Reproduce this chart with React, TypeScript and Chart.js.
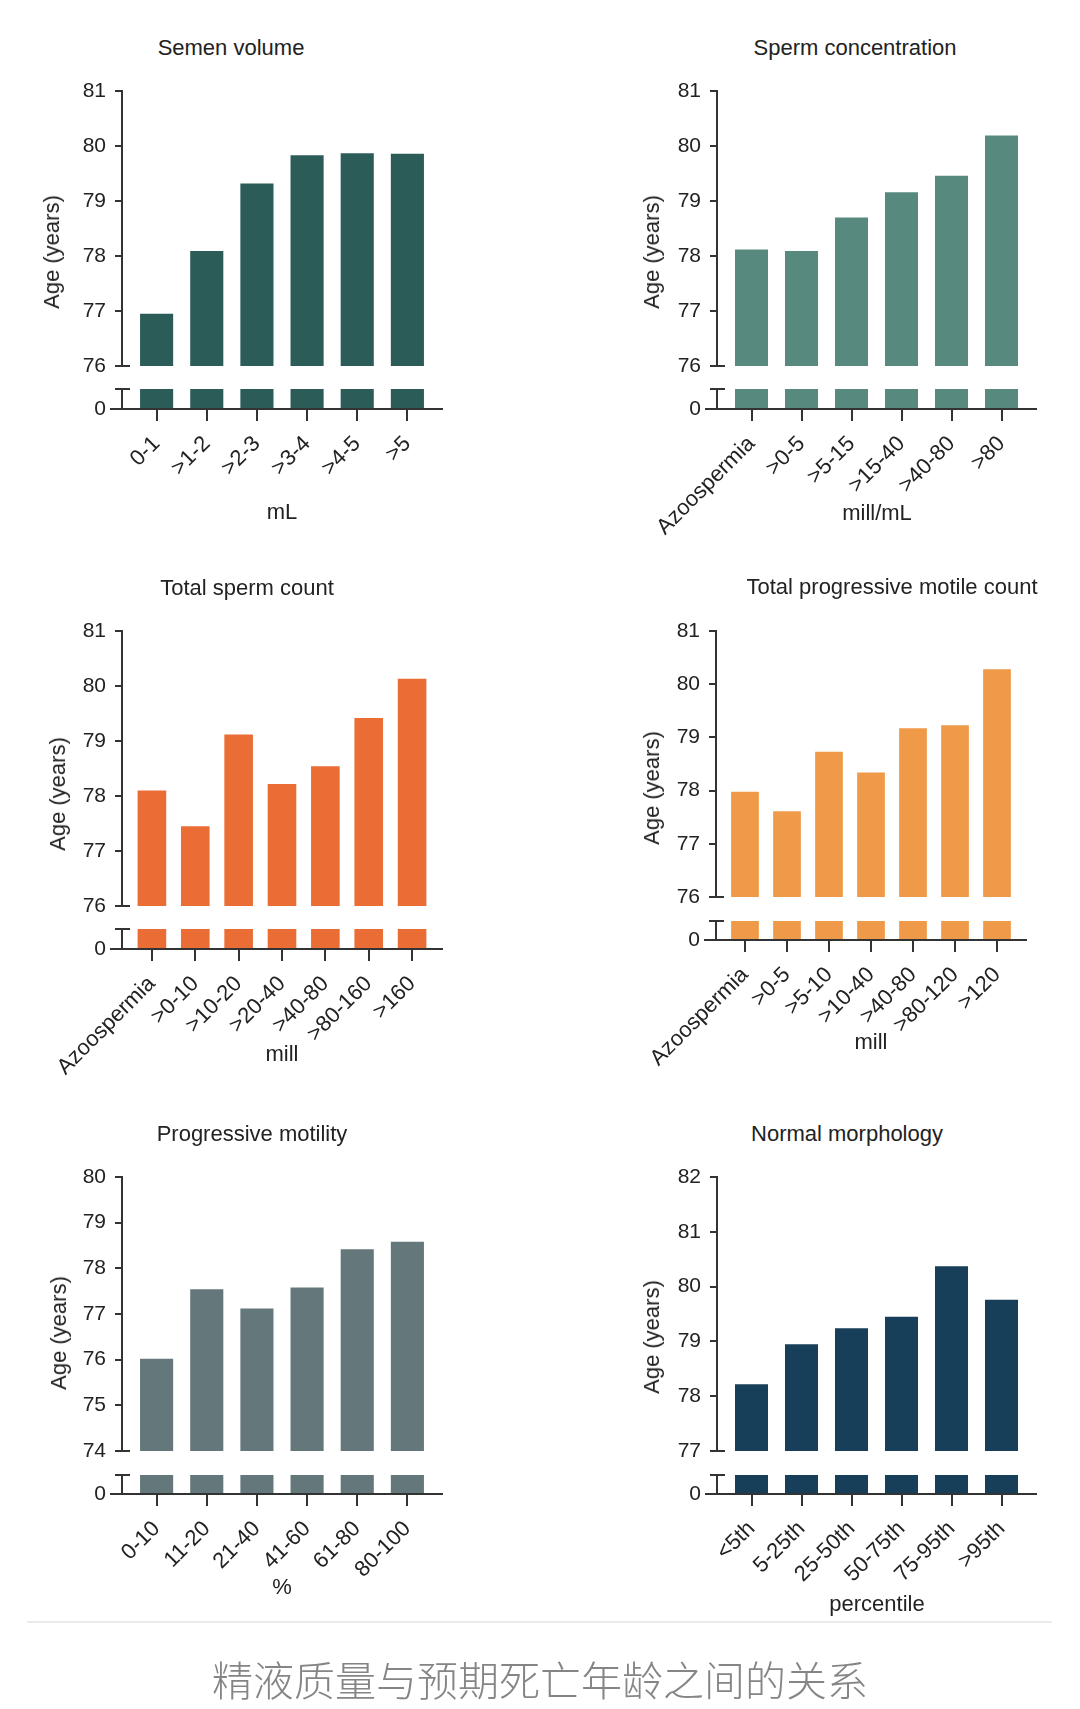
import React, { useEffect, useRef } from 'react';
import { Chart, registerables } from 'chart.js';

Chart.register(...registerables);

// ---------------- data ----------------
const semenVolumeCategories = ['0-1', '>1-2', '>2-3', '>3-4', '>4-5', '>5'];
const semenVolumeAges = [76.95, 78.09, 79.32, 79.83, 79.87, 79.86];

const concentrationCategories = ['Azoospermia', '>0-5', '>5-15', '>15-40', '>40-80', '>80'];
const concentrationAges = [78.12, 78.09, 78.7, 79.16, 79.46, 80.19];

const totalCountCategories = ['Azoospermia', '>0-10', '>10-20', '>20-40', '>40-80', '>80-160', '>160'];
const totalCountAges = [78.1, 77.45, 79.12, 78.22, 78.54, 79.42, 80.13];

const motileCountCategories = ['Azoospermia', '>0-5', '>5-10', '>10-40', '>40-80', '>80-120', '>120'];
const motileCountAges = [77.98, 77.61, 78.73, 78.34, 79.17, 79.23, 80.28];

const motilityCategories = ['0-10', '11-20', '21-40', '41-60', '61-80', '80-100'];
const motilityAges = [76.02, 77.54, 77.12, 77.58, 78.42, 78.58];

const morphologyCategories = ['<5th', '5-25th', '25-50th', '50-75th', '75-95th', '>95th'];
const morphologyAges = [78.22, 78.95, 79.24, 79.45, 80.37, 79.76];

const panelTitles = [
  'Semen volume',
  'Sperm concentration',
  'Total sperm count',
  'Total progressive motile count',
  'Progressive motility',
  'Normal morphology',
];
const unitLabels = ['mL', 'mill/mL', 'mill', 'mill', '%', 'percentile'];
const yAxisTitle = 'Age (years)';
const upperRanges: [number, number][] = [
  [76, 81],
  [76, 81],
  [76, 81],
  [76, 81],
  [74, 80],
  [77, 82],
];
const lowerRange: [number, number] = [0, 1];
const caption = '精液质量与预期死亡年龄之间的关系';

// ---------------- styles ----------------
const FONT = "'Liberation Sans', Arial, Helvetica, sans-serif";
const TEXT = '#222222';
const AXIS = '#333333';
const barColors = ['#2c5c58', '#57897f', '#ea6d36', '#ef9a48', '#64777a', '#173f59'];

const LEFT_W = 110;
const PAD_R = 12;
const UP_PAD = 26;
const LOW_PAD_T = 32;
const X_AXIS_H = 170;
const X_EDGE = 0.69;
const BAR_PCT = 0.66;

type Layout = {
  axisX: number; top: number; bottom: number; lowerTop: number; zero: number; right: number;
  titleX: number; titleY: number; yTitleX: number; yTitleY: number; unitX: number; unitY: number;
};

const layouts: Layout[] = [
  { axisX: 122, top: 91, bottom: 366, lowerTop: 389, zero: 409, right: 442, titleX: 231, titleY: 48, yTitleX: 52, yTitleY: 252, unitX: 282, unitY: 512 },
  { axisX: 717, top: 91, bottom: 366, lowerTop: 389, zero: 409, right: 1036, titleX: 855, titleY: 48, yTitleX: 652, yTitleY: 252, unitX: 877, unitY: 513 },
  { axisX: 122, top: 631, bottom: 906, lowerTop: 929, zero: 949, right: 442, titleX: 247, titleY: 588, yTitleX: 58, yTitleY: 794, unitX: 282, unitY: 1054 },
  { axisX: 716, top: 631, bottom: 897, lowerTop: 921, zero: 940, right: 1026, titleX: 892, titleY: 587, yTitleX: 652, yTitleY: 788, unitX: 871, unitY: 1042 },
  { axisX: 122, top: 1177, bottom: 1451, lowerTop: 1475, zero: 1494, right: 442, titleX: 252, titleY: 1134, yTitleX: 59, yTitleY: 1333, unitX: 282, unitY: 1587 },
  { axisX: 717, top: 1177, bottom: 1451, lowerTop: 1475, zero: 1494, right: 1036, titleX: 847, titleY: 1134, yTitleX: 652, yTitleY: 1337, unitX: 877, unitY: 1604 },
];

const panelCategories = [
  semenVolumeCategories,
  concentrationCategories,
  totalCountCategories,
  motileCountCategories,
  motilityCategories,
  morphologyCategories,
];
const panelValues = [semenVolumeAges, concentrationAges, totalCountAges, motileCountAges, motilityAges, morphologyAges];

function capPlugin(kind: 'upper' | 'lower') {
  return {
    id: 'breakCap' + kind,
    afterDraw(chart: any) {
      const ctx = chart.ctx;
      const y = chart.scales.y;
      const left = chart.chartArea.left;
      ctx.save();
      ctx.strokeStyle = AXIS;
      ctx.lineWidth = 2;
      ctx.beginPath();
      if (kind === 'upper') {
        const py = Math.round(y.getPixelForValue(y.min));
        ctx.moveTo(left, py);
        ctx.lineTo(left + 8, py);
      } else {
        const pt = Math.round(y.getPixelForValue(y.max));
        ctx.moveTo(left - 7, pt);
        ctx.lineTo(left + 8, pt);
        const p0 = Math.round(y.getPixelForValue(0));
        ctx.moveTo(left - 12, p0);
        ctx.lineTo(left, p0);
      }
      ctx.stroke();
      ctx.restore();
    },
  };
}

function BrokenBarPanel({ idx }: { idx: number }) {
  const upperRef = useRef<HTMLCanvasElement>(null);
  const lowerRef = useRef<HTMLCanvasElement>(null);
  const L = layouts[idx];
  const cats = panelCategories[idx];
  const vals = panelValues[idx];
  const [yMin, yMax] = upperRanges[idx];
  const color = barColors[idx];

  const width = LEFT_W + (L.right - L.axisX) + PAD_R;
  const upH = UP_PAD * 2 + (L.bottom - L.top);
  const lowH = LOW_PAD_T + (L.zero - L.lowerTop) + X_AXIS_H;

  useEffect(() => {
    const n = cats.length;
    const xMin = -X_EDGE;
    const xMax = n - 1 + X_EDGE;
    const pts = vals.map((v, i) => ({ x: i, y: v }));
    const yFont = { family: FONT, size: 21 };
    const xFont = { family: FONT, size: 22 };
    const setXTicks = (s: any) => {
      s.ticks = cats.map((_, i) => ({ value: i }));
    };

    const upper = new Chart(upperRef.current as HTMLCanvasElement, {
      type: 'bar',
      data: {
        datasets: [
          { data: pts as any, backgroundColor: color, categoryPercentage: 1, barPercentage: BAR_PCT, clip: 0 as any },
        ],
      },
      options: {
        animation: false,
        responsive: false,
        events: [],
        layout: { padding: { top: UP_PAD, right: PAD_R, bottom: UP_PAD, left: 0 } },
        plugins: { legend: { display: false }, tooltip: { enabled: false } },
        scales: {
          x: {
            type: 'linear',
            display: false,
            bounds: 'data',
            offset: false,
            min: xMin,
            max: xMax,
            afterBuildTicks: setXTicks,
            grid: { offset: false },
          },
          y: {
            type: 'linear',
            min: yMin,
            max: yMax,
            afterFit: (s: any) => {
              s.width = LEFT_W;
            },
            ticks: { stepSize: 1, padding: 9, color: TEXT, font: yFont },
            grid: { drawOnChartArea: false, tickLength: 7, lineWidth: 2, color: AXIS },
            border: { color: AXIS, width: 2, z: 1 },
          },
        },
      } as any,
      plugins: [capPlugin('upper')],
    });

    const lower = new Chart(lowerRef.current as HTMLCanvasElement, {
      type: 'bar',
      data: {
        datasets: [
          { data: pts as any, backgroundColor: color, categoryPercentage: 1, barPercentage: BAR_PCT, clip: 0 as any },
        ],
      },
      options: {
        animation: false,
        responsive: false,
        events: [],
        layout: { padding: { top: LOW_PAD_T, right: PAD_R, bottom: 0, left: 0 } },
        plugins: { legend: { display: false }, tooltip: { enabled: false } },
        scales: {
          x: {
            type: 'linear',
            bounds: 'data',
            offset: false,
            min: xMin,
            max: xMax,
            afterBuildTicks: setXTicks,
            afterFit: (s: any) => {
              s.height = X_AXIS_H;
            },
            ticks: {
              autoSkip: false,
              minRotation: 45,
              maxRotation: 45,
              padding: 10,
              color: TEXT,
              font: xFont,
              callback: (v: any) => cats[Math.round(v)],
            },
            grid: { offset: false, drawOnChartArea: false, tickLength: 12, lineWidth: 2, color: AXIS },
            border: { color: AXIS, width: 2, z: 1 },
          },
          y: {
            type: 'linear',
            min: lowerRange[0],
            max: lowerRange[1],
            afterBuildTicks: (s: any) => {
              s.ticks = [{ value: lowerRange[0] }];
            },
            afterFit: (s: any) => {
              s.width = LEFT_W;
            },
            ticks: { padding: 16, color: TEXT, font: yFont },
            grid: { display: false, drawTicks: false },
            border: { color: AXIS, width: 2, z: 1 },
          },
        },
      } as any,
      plugins: [capPlugin('lower')],
    });

    return () => {
      upper.destroy();
      lower.destroy();
    };
  }, [idx]);

  const left = L.axisX - LEFT_W;
  const textStyle: React.CSSProperties = {
    position: 'absolute',
    fontFamily: FONT,
    fontSize: 22,
    lineHeight: 1,
    color: TEXT,
    whiteSpace: 'nowrap',
  };

  return (
    <>
      <canvas
        ref={upperRef}
        width={width}
        height={upH}
        style={{ position: 'absolute', left, top: L.top - UP_PAD, width, height: upH }}
      />
      <canvas
        ref={lowerRef}
        width={width}
        height={lowH}
        style={{ position: 'absolute', left, top: L.lowerTop - LOW_PAD_T, width, height: lowH }}
      />
      <div style={{ ...textStyle, left: L.titleX, top: L.titleY, transform: 'translate(-50%, -50%)' }}>
        {panelTitles[idx]}
      </div>
      <div style={{ ...textStyle, left: L.yTitleX, top: L.yTitleY, transform: 'translate(-50%, -50%) rotate(-90deg)' }}>
        {yAxisTitle}
      </div>
      <div style={{ ...textStyle, left: L.unitX, top: L.unitY, transform: 'translate(-50%, -50%)' }}>
        {unitLabels[idx]}
      </div>
    </>
  );
}

export default function App() {
  useEffect(() => {
    document.body.style.margin = '0';
    document.body.style.background = '#ffffff';
  }, []);
  return (
    <div
      style={{
        position: 'absolute',
        left: 0,
        top: 0,
        width: 1080,
        height: 1709,
        overflow: 'hidden',
        background: '#ffffff',
      }}
    >
      {layouts.map((_, i) => (
        <BrokenBarPanel key={i} idx={i} />
      ))}
      <div
        style={{
          position: 'absolute',
          left: 27,
          top: 1621,
          width: 1025,
          height: 2,
          background: '#ebebeb',
        }}
      />
      <div
        style={{
          position: 'absolute',
          left: 540,
          top: 1678,
          transform: 'translate(-50%, -50%)',
          fontFamily: "'Noto Sans CJK SC', sans-serif",
          fontSize: 41,
          fontWeight: 300,
          lineHeight: 1,
          color: '#858585',
          whiteSpace: 'nowrap',
        }}
      >
        {caption}
      </div>
    </div>
  );
}
